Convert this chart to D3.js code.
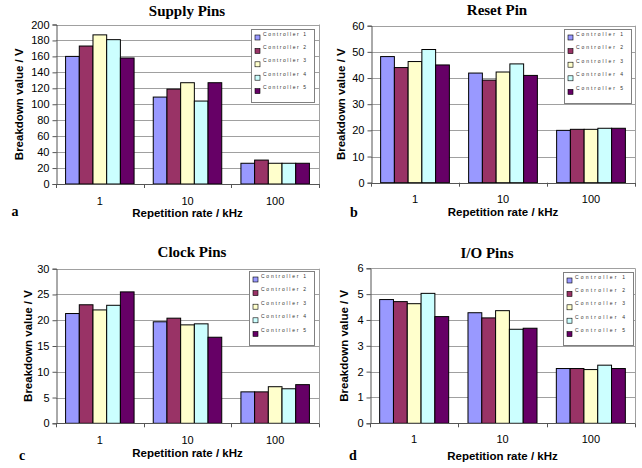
<!DOCTYPE html>
<html>
<head>
<meta charset="utf-8">
<script src="https://cdn.jsdelivr.net/npm/d3@7"></script>
<style>
  body { margin: 0; background: #fff; }
  svg { display: block; }
</style>
</head>
<body>
<div id="root"></div>
<script>
// data
const rates = ["1", "10", "100"]
const controllers = ["Controller 1", "Controller 2", "Controller 3", "Controller 4", "Controller 5"]
const colors = ["#9999FF", "#993366", "#FFFFCC", "#CCFFFF", "#660066"]

// rows = repetition rate, cols = controller
const supplyPins = [[160, 173, 187, 181, 158], [109, 119, 127, 104, 127], [26, 30, 26, 26, 26]]
const resetPin = [[48.2, 44, 46.3, 50.9, 45], [41.9, 39.2, 42.3, 45.4, 41], [20, 20.4, 20.4, 20.8, 20.8]]
const clockPins = [[21.3, 23, 22, 22.9, 25.5], [19.7, 20.4, 19.1, 19.3, 16.7], [6.1, 6.1, 7.1, 6.7, 7.5]]
const ioPins = [[4.79, 4.71, 4.63, 5.03, 4.13], [4.28, 4.08, 4.36, 3.64, 3.68], [2.12, 2.12, 2.08, 2.25, 2.12]]

const yTicksA = [0, 20, 40, 60, 80, 100, 120, 140, 160, 180, 200]
const yTicksB = [0, 10, 20, 30, 40, 50, 60]
const yTicksC = [0, 5, 10, 15, 20, 25, 30]
const yTicksD = [0, 1, 2, 3, 4, 5, 6]

const W = 642, H = 468
const svg = d3.select("#root").append("svg")
    .attr("width", W)
    .attr("height", H)

// panel layout (absolute px)
const panels = [
    {title: "Supply Pins", letter: "a", data: supplyPins, ticks: yTicksA,
        x0: 56, x1: 319, y0: 24.5, y1: 184, tx: 187, ty: 11, ylx: 19, xly: 213, catY: 201, lx: 15, ly: 211,
        leg: [251, 29, 63, 73]},
    {title: "Reset Pin", letter: "b", data: resetPin, ticks: yTicksB,
        x0: 371, x1: 635, y0: 25.7, y1: 182.7, tx: 497, ty: 10, ylx: 341, xly: 212, catY: 199.5, lx: 354, ly: 212,
        leg: [564, 29, 67, 74]},
    {title: "Clock Pins", letter: "c", data: clockPins, ticks: yTicksC,
        x0: 56, x1: 319, y0: 268.7, y1: 423.3, tx: 192, ty: 252, ylx: 28, xly: 453, catY: 440, lx: 22, ly: 455,
        leg: [249, 271, 65, 74]},
    {title: "I/O Pins", letter: "d", data: ioPins, ticks: yTicksD,
        x0: 370, x1: 635, y0: 268.3, y1: 423.3, tx: 487, ty: 253, ylx: 344, xly: 455.5, catY: 439.5, lx: 353, ly: 455,
        leg: [563, 272, 70, 73]}
]

function drawPanel(p) {
    const g = svg.append("g")

    const x = d3.scaleBand()
        .domain(rates)
        .range([p.x0, p.x1])
        .paddingInner(0).paddingOuter(0)

    const xs = d3.scaleBand()
        .domain(controllers)
        .range([0, x.bandwidth()])
        .paddingInner(0).paddingOuter(0.7)

    const y = d3.scaleLinear()
        .domain([0, d3.max(p.ticks)])
        .range([p.y1, p.y0])

    // gridlines
    g.selectAll("line.grid")
        .data(p.ticks.slice(1))
        .enter().append("line")
        .attr("class", "grid")
        .attr("x1", p.x0).attr("x2", p.x1)
        .attr("y1", d => Math.round(y(d)) + 0.5)
        .attr("y2", d => Math.round(y(d)) + 0.5)
        .attr("stroke", "#a0a0a0")
        .attr("stroke-width", 1)

    // right border of plot area
    g.append("line")
        .attr("x1", Math.round(p.x1) + 0.5).attr("x2", Math.round(p.x1) + 0.5)
        .attr("y1", y(d3.max(p.ticks))).attr("y2", p.y1)
        .attr("stroke", "#a0a0a0")

    // bars
    const groups = g.selectAll("g.grp")
        .data(p.data)
        .enter().append("g")
        .attr("class", "grp")
        .attr("transform", (d, i) => "translate(" + x(rates[i]) + ",0)")

    groups.selectAll("rect")
        .data(d => d)
        .enter().append("rect")
        .attr("x", (d, j) => xs(controllers[j]))
        .attr("y", d => y(d))
        .attr("width", xs.bandwidth())
        .attr("height", d => y(0) - y(d))
        .attr("fill", (d, j) => colors[j])
        .attr("stroke", "#000")
        .attr("stroke-width", 1)

    // y axis
    const yAxis = d3.axisLeft(y)
        .tickValues(p.ticks)
        .tickSize(4)
        .tickPadding(3)
        .tickFormat(d3.format("d"))
    const ya = g.append("g")
        .attr("transform", "translate(" + (Math.round(p.x0) + 0.5) + ",0)")
        .call(yAxis)
    ya.select(".domain").attr("stroke", "#555")
    ya.selectAll(".tick line").attr("stroke", "#555")
    ya.selectAll(".tick text")
        .attr("font-family", "Liberation Sans, Arial, sans-serif")
        .attr("font-size", 11)
        .attr("fill", "#000")

    // x axis line
    g.append("line")
        .attr("x1", p.x0).attr("x2", p.x1)
        .attr("y1", Math.round(p.y1) + 0.5).attr("y2", Math.round(p.y1) + 0.5)
        .attr("stroke", "#555")

    // x ticks at category boundaries
    const bounds = rates.map(r => x(r)).concat([x(rates[rates.length - 1]) + x.bandwidth()])
    g.selectAll("line.xtick")
        .data(bounds)
        .enter().append("line")
        .attr("x1", d => Math.round(d) + 0.5).attr("x2", d => Math.round(d) + 0.5)
        .attr("y1", p.y1).attr("y2", p.y1 + 4)
        .attr("stroke", "#555")

    // category labels
    g.selectAll("text.cat")
        .data(rates)
        .enter().append("text")
        .attr("x", d => x(d) + x.bandwidth() / 2)
        .attr("y", p.catY)
        .attr("dy", "0.35em")
        .attr("text-anchor", "middle")
        .attr("font-family", "Liberation Sans, Arial, sans-serif")
        .attr("font-size", 11)
        .text(d => d)

    // title
    g.append("text")
        .attr("x", p.tx).attr("y", p.ty)
        .attr("dy", "0.35em")
        .attr("text-anchor", "middle")
        .attr("font-family", "Liberation Serif, Times New Roman, serif")
        .attr("font-weight", "bold")
        .attr("font-size", 15)
        .text(p.title)

    // axis titles
    g.append("text")
        .attr("transform", "translate(" + p.ylx + "," + ((p.y0 + p.y1) / 2) + ") rotate(-90)")
        .attr("dy", "0.35em")
        .attr("text-anchor", "middle")
        .attr("font-family", "Liberation Sans, Arial, sans-serif")
        .attr("font-weight", "bold")
        .attr("font-size", 11.5)
        .text("Breakdown value / V")

    g.append("text")
        .attr("x", (p.x0 + p.x1) / 2).attr("y", p.xly)
        .attr("dy", "0.35em")
        .attr("text-anchor", "middle")
        .attr("font-family", "Liberation Sans, Arial, sans-serif")
        .attr("font-weight", "bold")
        .attr("font-size", 11.5)
        .text("Repetition rate / kHz")

    // panel letter
    g.append("text")
        .attr("x", p.lx).attr("y", p.ly)
        .attr("dy", "0.35em")
        .attr("text-anchor", "middle")
        .attr("font-family", "Liberation Serif, Times New Roman, serif")
        .attr("font-weight", "bold")
        .attr("font-size", 14)
        .text(p.letter)

    // legend
    const [lx, ly, lw, lh] = p.leg
    const lg = g.append("g").attr("transform", "translate(" + lx + "," + ly + ")")
    lg.append("rect")
        .attr("x", 0.5).attr("y", 0.5)
        .attr("width", lw).attr("height", lh)
        .attr("fill", "#fff")
        .attr("stroke", "#808080")
    const step = (lh - 6) / controllers.length
    const items = lg.selectAll("g.item")
        .data(controllers)
        .enter().append("g")
        .attr("transform", (d, i) => "translate(4," + (6 + i * step) + ")")
    items.append("rect")
        .attr("x", 0).attr("y", 0)
        .attr("width", 5).attr("height", 5)
        .attr("fill", (d, i) => colors[i])
        .attr("stroke", "#000")
        .attr("stroke-width", 0.6)
    items.append("text")
        .attr("x", 8).attr("y", 0)
        .attr("dy", "0.1em")
        .attr("font-family", "Liberation Sans, Arial, sans-serif")
        .attr("font-size", 5)
        .attr("fill", "#333")
        .attr("textLength", lw - 20)
        .attr("lengthAdjust", "spacing")
        .text(d => d)
}

panels.forEach(drawPanel)
</script>
</body>
</html>
